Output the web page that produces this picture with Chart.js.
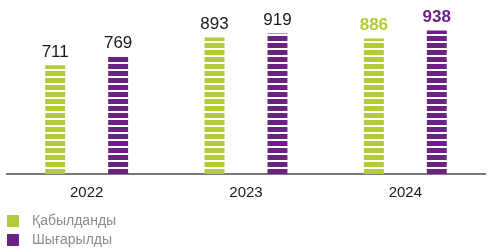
<!DOCTYPE html>
<html>
<head>
<meta charset="utf-8">
<script src="https://cdn.jsdelivr.net/npm/chart.js@4"></script>
<style>
  html, body { margin: 0; padding: 0; background: #fff; }
  #wrap { width: 492px; height: 252px; position: relative; }
</style>
</head>
<body>
<div id="wrap"><canvas id="chart" width="492" height="252"></canvas></div>
<script>
'use strict';

// data
const years = ['2022', '2023', '2024'];
const accepted = [711, 893, 886];   // Қабылданды
const issued = [769, 919, 938];     // Шығарылды
const seriesNames = ['Қабылданды', 'Шығарылды'];

const GREEN = '#b4cb37';
const PURPLE = '#6b2383';

// horizontal stripes: 5px colour, 2px gap
function stripes(color) {
  let c = document.createElement('canvas');
  c.width = 4;
  c.height = 7;
  let g = c.getContext('2d');
  g.fillStyle = color;
  g.fillRect(0, 2, 4, 5);
  return g.createPattern(c, 'repeat');
}

const greenStripes = stripes(GREEN);
const purpleStripes = stripes(PURPLE);

// keep the stripes lined up with the baseline
const stripeAnchor = {
  id: 'stripeAnchor',
  beforeDatasetsDraw(chart) {
    let base = chart.scales.y.getPixelForValue(0);
    let m = new DOMMatrix([1, 0, 0, 1, 0, base]);
    greenStripes.setTransform(m);
    purpleStripes.setTransform(m);
  }
};

// numbers above the bars
const valueLabels = {
  id: 'valueLabels',
  afterDatasetsDraw(chart) {
    let ctx = chart.ctx;
    ctx.save();
    ctx.textAlign = 'center';
    ctx.textBaseline = 'alphabetic';
    chart.data.datasets.forEach((ds, di) => {
      chart.getDatasetMeta(di).data.forEach((bar, i) => {
        let last = i === ds.data.length - 1;
        ctx.font = (last ? 'bold ' : '') + '17px "Liberation Sans", Arial, sans-serif';
        ctx.fillStyle = last ? ds.labelColor : '#1a1a1a';
        ctx.fillText(String(ds.data[i]), bar.x, bar.y - 8);
      });
    });
    ctx.restore();
  }
};

// legend stacked in one column, bottom left
const stackedLegend = {
  id: 'stackedLegend',
  afterDraw(chart) {
    let ctx = chart.ctx;
    ctx.save();
    ctx.font = '14px "Liberation Sans", Arial, sans-serif';
    ctx.textBaseline = 'middle';
    ctx.textAlign = 'left';
    chart.data.datasets.forEach((ds, i) => {
      let top = 215 + i * 19;
      ctx.fillStyle = ds.labelColor;
      ctx.fillRect(7, top, 12, 12);
      ctx.fillStyle = '#8c8c8c';
      ctx.fillText(ds.label, 32, top + 6.5);
    });
    ctx.restore();
  }
};

let ctx = document.getElementById('chart').getContext('2d');
new Chart(ctx, {
  type: 'bar',
  data: {
    labels: years,
    datasets: [{
      label: seriesNames[0],
      data: accepted,
      backgroundColor: greenStripes,
      labelColor: GREEN,
    }, {
      label: seriesNames[1],
      data: issued,
      backgroundColor: purpleStripes,
      labelColor: PURPLE,
    }],
  },
  options: {
    responsive: false,
    animation: false,
    categoryPercentage: 0.79,
    barPercentage: 0.317,
    layout: {
      padding: { top: 8, left: 7, right: 7, bottom: 40 }
    },
    plugins: {
      legend: { display: false },
      tooltip: { enabled: false },
    },
    scales: {
      x: {
        grid: { display: false, drawTicks: false },
        border: { display: true, color: '#7a7a7a', width: 2 },
        ticks: {
          padding: 10,
          color: '#1a1a1a',
          font: { size: 15, family: '"Liberation Sans", Arial, sans-serif' },
        },
      },
      y: {
        display: false,
        min: 0,
        max: 1085,
      },
    },
  },
  plugins: [stripeAnchor, valueLabels, stackedLegend],
});
</script>
</body>
</html>
